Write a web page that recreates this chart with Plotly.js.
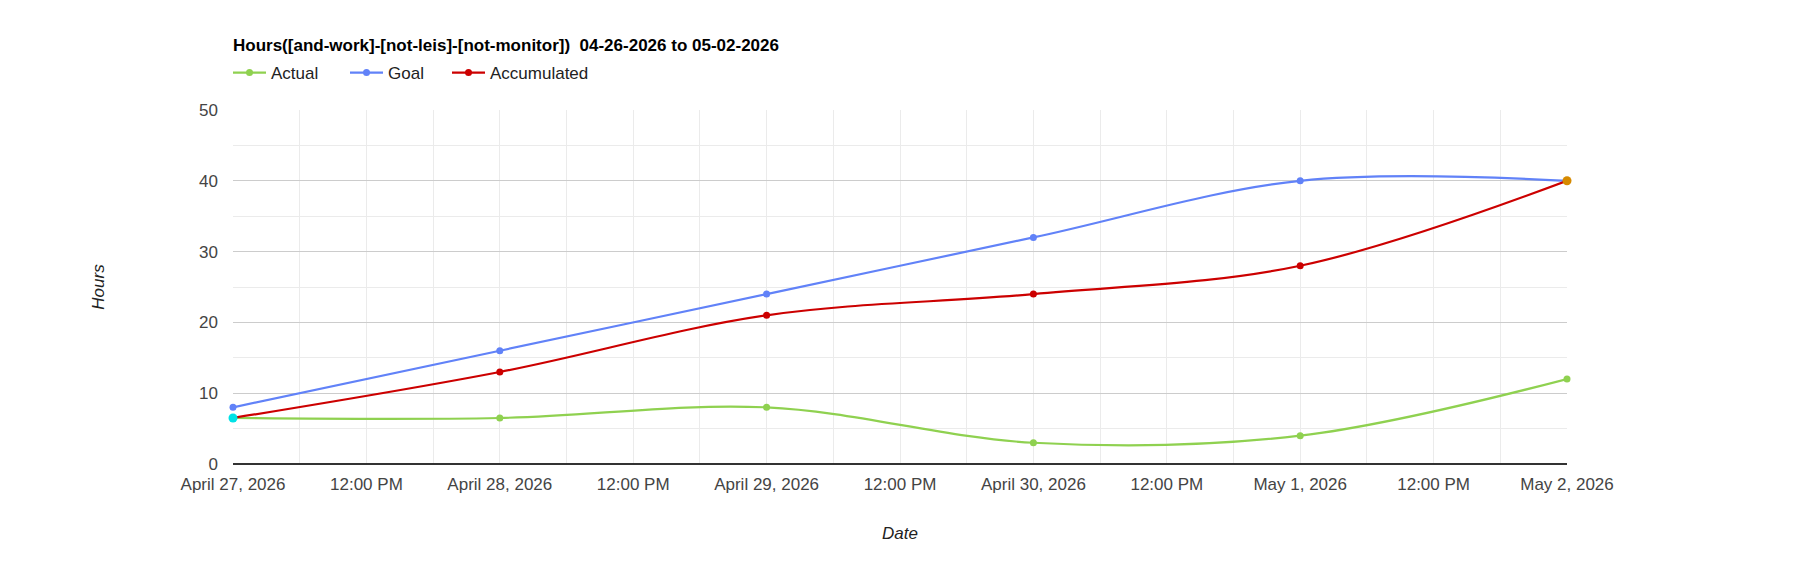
<!DOCTYPE html>
<html>
<head>
<meta charset="utf-8">
<script src="https://cdn.plot.ly/plotly-3.0.1.min.js"></script>
<style>html,body{margin:0;padding:0;background:#fff;}#chart{width:1800px;height:575px;}</style>
</head>
<body>
<div id="chart"></div>
<script>
const dates = ['2026-04-27', '2026-04-28', '2026-04-29', '2026-04-30', '2026-05-01', '2026-05-02'];
const dayLabels = ['April 27, 2026', 'April 28, 2026', 'April 29, 2026', 'April 30, 2026', 'May 1, 2026', 'May 2, 2026'];
const noonLabel = '12:00 PM';
const actual = [6.5, 6.5, 8, 3, 4, 12];
const goal = [8, 16, 24, 32, 40, 40];
const accumulated = [6.5, 13, 21, 24, 28, 40];
const seriesNames = ['Actual', 'Goal', 'Accumulated'];
const chartTitle = 'Hours([and-work]-[not-leis]-[not-monitor])  04-26-2026 to 05-02-2026';

const FONT = '"Liberation Sans", Arial, sans-serif';
const cGreen = '#8fd150', cBlue = '#6182f8', cRed = '#cc0000', cCyan = '#00e2e6', cOrange = '#d68a00';

// tick positions: each day and each noon in between
const tickvals = [], ticktext = [];
dates.forEach((d, i) => {
  tickvals.push(d); ticktext.push(dayLabels[i]);
  if (i < dates.length - 1) { tickvals.push(d + ' 12:00'); ticktext.push(noonLabel); }
});

const n = dates.length;

const traces = [
  {x: dates, y: actual, name: seriesNames[0], type: 'scatter', mode: 'lines+markers',
   line: {color: cGreen, width: 2.2, shape: 'spline', smoothing: 1}, marker: {color: cGreen, size: 7},
   cliponaxis: false, legend: 'legend'},
  {x: dates, y: goal, name: seriesNames[1], type: 'scatter', mode: 'lines+markers',
   line: {color: cBlue, width: 2.2, shape: 'spline', smoothing: 1}, marker: {color: cBlue, size: 7},
   cliponaxis: false, legend: 'legend2'},
  {x: dates, y: accumulated, name: seriesNames[2], type: 'scatter', mode: 'lines+markers',
   line: {color: cRed, width: 2.2, shape: 'spline', smoothing: 1}, marker: {color: cRed, size: 7},
   cliponaxis: false, legend: 'legend3'},
  // highlighted first / last points
  {x: [dates[0], dates[n - 1]], y: [actual[0], accumulated[n - 1]], type: 'scatter', mode: 'markers',
   marker: {color: [cCyan, cOrange], size: 9}, cliponaxis: false, showlegend: false}
];

const legBase = {orientation: 'h', xref: 'container', yref: 'container', y: 1 - 73 / 575, yanchor: 'middle',
  xanchor: 'left', itemwidth: 33, font: {family: FONT, size: 17, color: '#222'}, bgcolor: 'rgba(0,0,0,0)', borderwidth: 0};

const layout = {
  width: 1800, height: 575,
  paper_bgcolor: '#fff', plot_bgcolor: '#fff',
  showlegend: true,
  margin: {l: 233, r: 233, t: 110, b: 111},
  font: {family: FONT, size: 17, color: '#444'},
  title: {text: '<b>' + chartTitle + '</b>', xref: 'container', yref: 'container', x: 233 / 1800, xanchor: 'left',
          y: 1 - 45 / 575, yanchor: 'middle', font: {family: FONT, size: 17, color: '#000'}},
  legend: Object.assign({}, legBase, {x: 228 / 1800}),
  legend2: Object.assign({}, legBase, {x: 345 / 1800}),
  legend3: Object.assign({}, legBase, {x: 447 / 1800}),
  xaxis: {type: 'date', range: [dates[0], dates[n - 1]], tickmode: 'array', tickvals: tickvals, ticktext: ticktext,
          showgrid: true, gridcolor: '#ebebeb', gridwidth: 1, zeroline: false, showline: false,
          ticks: '', ticklabelstandoff: 8, tickfont: {family: FONT, size: 17, color: '#444'},
          minor: {dtick: 6 * 3600 * 1000, showgrid: true, gridcolor: '#ebebeb', ticks: ''},
          title: {text: 'Date', standoff: 34, font: {family: FONT, size: 17, color: '#222', style: 'italic'}},
          fixedrange: true},
  xaxis2: {type: 'date', overlaying: 'x', range: [dates[0], dates[n - 1]], tickmode: 'array', tickvals: dates,
           showticklabels: false, showgrid: true, gridcolor: '#cccccc', gridwidth: 1, zeroline: false, ticks: '',
           side: 'bottom', fixedrange: true},
  yaxis: {range: [0, 50], dtick: 10, showgrid: true, gridcolor: '#cccccc', zeroline: true, zerolinecolor: '#333',
          zerolinewidth: 1.3, ticks: '', ticklabelstandoff: 14, tickfont: {family: FONT, size: 17, color: '#444'},
          minor: {dtick: 5, showgrid: true, gridcolor: '#ebebeb', ticks: ''},
          title: {text: 'Hours', standoff: 90, font: {family: FONT, size: 17, color: '#222', style: 'italic'}},
          fixedrange: true},
  hovermode: false
};

Plotly.newPlot('chart', traces, layout, {displayModeBar: false, staticPlot: true});
</script>
</body>
</html>
